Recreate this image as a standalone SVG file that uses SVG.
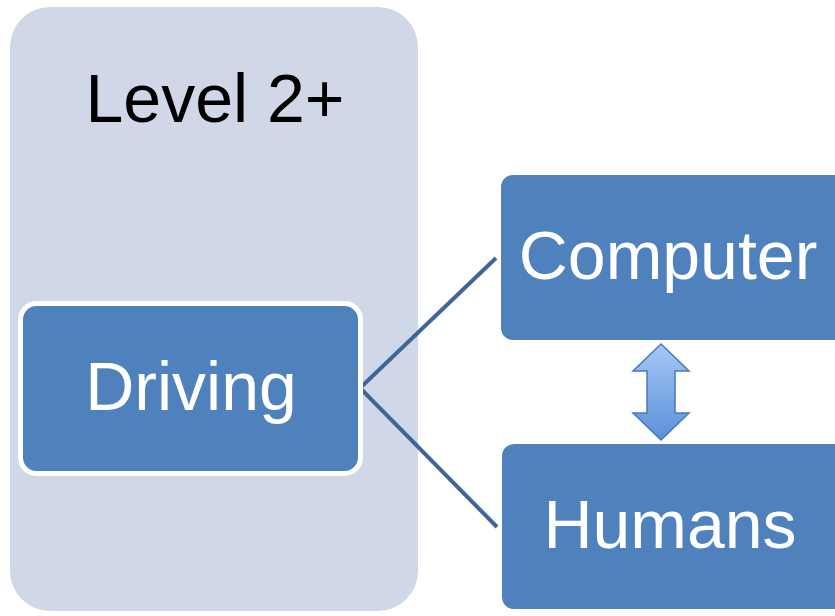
<svg xmlns="http://www.w3.org/2000/svg" width="835" height="616" viewBox="0 0 835 616">
<style>
.lbl{font-family:"Liberation Sans",Arial,sans-serif;font-size:68px;text-anchor:middle}
.box{fill:#4f81bd}
.w{fill:#ffffff}
.conn{stroke:#3f6699;stroke-width:4;fill:none}
</style>
<defs>
<linearGradient id="ag" x1="0" y1="0" x2="0" y2="1">
<stop offset="0" stop-color="#a6c9f7"/>
<stop offset="1" stop-color="#5b90d8"/>
</linearGradient>
</defs>
<rect width="835" height="616" fill="#ffffff"/>
<g id="panel">
<rect x="10" y="7" width="408" height="604" rx="40" fill="#d0d8e8"/>
<text class="lbl" x="215" y="122" fill="#000000">Level 2+</text>
</g>
<g id="connectors">
<polyline class="conn" points="496,258 360,388 497,527"/>
<path d="M661,344 L689,371 L675,371 L675,413 L689,413 L661,440 L633,413 L647,413 L647,371 L633,371 Z" fill="url(#ag)" stroke="#4a78b5" stroke-width="1.5"/>
</g>
<g id="driving">
<rect x="20.5" y="303.5" width="340" height="170" rx="16" class="box" stroke="#ffffff" stroke-width="5"/>
<text class="lbl w" x="191" y="410">Driving</text>
</g>
<g id="computer">
<rect x="501" y="175" width="345" height="165" rx="12" class="box"/>
<text class="lbl w" x="668" y="279">Computer</text>
</g>
<g id="humans">
<rect x="502" y="444" width="345" height="165" rx="12" class="box"/>
<text class="lbl w" x="670" y="548">Humans</text>
</g>
</svg>
